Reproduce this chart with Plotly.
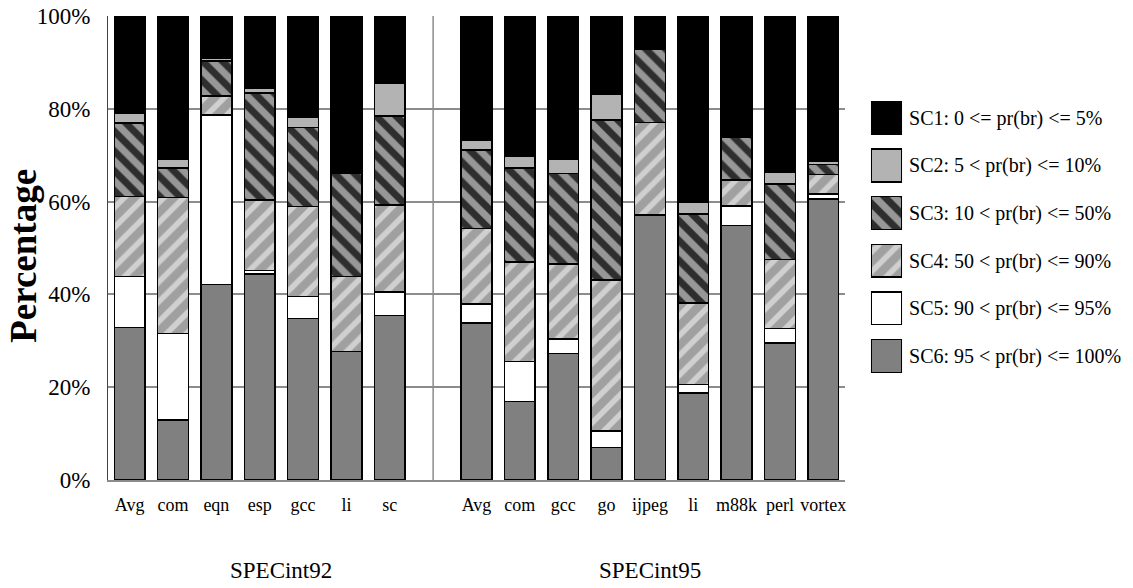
import plotly.graph_objects as go

# ---- data ----
cats92 = ["Avg", "com", "eqn", "esp", "gcc", "li", "sc"]
cats95 = ["Avg", "com", "gcc", "go", "ijpeg", "li", "m88k", "perl", "vortex"]
group_names = ["SPECint92", "SPECint95"]

series_names = [
    "SC1: 0 <= pr(br) <= 5%",
    "SC2: 5 < pr(br) <= 10%",
    "SC3: 10 < pr(br) <= 50%",
    "SC4: 50 < pr(br) <= 90%",
    "SC5: 90 < pr(br) <= 95%",
    "SC6: 95 < pr(br) <= 100%",
]

sc6 = [32.9, 12.9, 42.1, 44.4, 34.8, 27.7, 35.4] + [33.8, 16.9, 27.3, 7.0, 57.0, 18.8, 54.8, 29.5, 60.6]
sc5 = [11.0, 18.7, 36.6, 0.7, 4.7, 0.0, 5.1] + [4.1, 8.6, 3.1, 3.6, 0.2, 1.8, 4.3, 3.2, 1.0]
sc4 = [17.2, 29.3, 4.1, 15.2, 19.4, 16.2, 18.8] + [16.3, 21.5, 16.1, 32.5, 19.8, 17.6, 5.6, 14.8, 4.2]
sc3 = [15.8, 6.3, 7.5, 23.1, 17.1, 22.3, 19.1] + [16.9, 20.2, 19.6, 34.5, 15.8, 19.1, 9.1, 16.3, 2.2]
sc2 = [2.2, 2.0, 0.7, 1.0, 2.1, 0.3, 7.1] + [2.2, 2.6, 3.1, 5.5, 0.0, 2.5, 0.3, 2.5, 0.7]
sc1 = [20.9, 30.8, 9.0, 15.6, 21.9, 33.5, 14.5] + [26.7, 30.2, 30.8, 16.9, 7.2, 40.2, 25.9, 33.7, 31.3]

series_values = [sc1, sc2, sc3, sc4, sc5, sc6]

ytick_vals = [0, 20, 40, 60, 80, 100]
ytick_text = ["0%", "20%", "40%", "60%", "80%", "100%"]

# ---- styles ----
styles = [
    dict(color="#000000"),
    dict(color="#b3b3b3"),
    dict(color="#2e2e2e", pattern=dict(shape="\\", fgcolor="white", bgcolor="#2e2e2e", size=14, solidity=0.5)),
    dict(color="#a0a0a0", pattern=dict(shape="/", fgcolor="white", bgcolor="#a0a0a0", size=14, solidity=0.4)),
    dict(color="#ffffff"),
    dict(color="#808080"),
]

# x positions: group 1, one empty slot, group 2
n1 = len(cats92)
xpos = list(range(n1)) + [n1 + 1 + i for i in range(len(cats95))]
xlabels = cats92 + cats95
n_slots = xpos[-1] + 1

fig = go.Figure()

# stacked bars: SC6 at bottom
for name, vals, st in reversed(list(zip(series_names, series_values, styles))):
    m = dict(st)
    m["line"] = dict(color="black", width=1.5)
    fig.add_trace(go.Bar(x=xpos, y=vals, name=name, marker=m, xaxis="x", yaxis="y",
                         showlegend=False))

# custom legend swatches (large squares)
for name, st in zip(series_names, styles):
    m = dict(st)
    m["line"] = dict(color="black", width=1.5)
    fig.add_trace(go.Bar(x=[1], y=[name], orientation="h", marker=m, width=0.69,
                         xaxis="x2", yaxis="y2", showlegend=False, hoverinfo="skip"))

GRID = "#8c8c8c"
FONT = "Liberation Serif"

fig.update_layout(
    width=1133, height=588,
    margin=dict(l=108, r=10, t=16, b=108, autoexpand=False),
    plot_bgcolor="white", paper_bgcolor="white",
    barmode="stack", bargap=0.29,
    showlegend=False,
    font=dict(family=FONT, color="black"),
    xaxis=dict(domain=[0, 0.7261], range=[-0.5, n_slots - 0.5], tickmode="array",
               tickvals=xpos, ticktext=xlabels, showgrid=False, zeroline=False,
               showline=True, linecolor=GRID, linewidth=1.5, ticks="",
               tickfont=dict(size=18, family=FONT), ticklabelstandoff=8, anchor="y",
               automargin=False),
    yaxis=dict(range=[0, 100], tickmode="array", tickvals=ytick_vals, ticktext=ytick_text,
               showgrid=True, gridcolor=GRID, gridwidth=1.5, zeroline=False,
               showline=True, linecolor="#444444", linewidth=1, ticks="",
               tickfont=dict(size=23, family=FONT), ticklabelstandoff=12, anchor="x",
               automargin=False),
    xaxis2=dict(domain=[0.7517, 0.7823], range=[0, 1], visible=False, anchor="y2",
                automargin=False),
    yaxis2=dict(domain=[0.2162, 0.8317], anchor="x2", side="right", type="category",
                autorange="reversed", showgrid=False, zeroline=False, showline=False,
                ticks="", tickfont=dict(size=20, family=FONT), ticklabelstandoff=6,
                automargin=False),
)

# group separator line at the empty slot
fig.add_shape(type="line", xref="x", yref="y", x0=n1, x1=n1, y0=0, y1=100,
              line=dict(color=GRID, width=1.5), layer="below")

# group labels
fig.add_annotation(text=group_names[0], xref="x", yref="paper", x=n1 / 2, y=-0.196,
                   xanchor="center", yanchor="middle",
                   showarrow=False, font=dict(size=23, family=FONT))
fig.add_annotation(text=group_names[1], xref="x", yref="paper",
                   x=(xpos[n1] + xpos[-1]) / 2, y=-0.196,
                   xanchor="center", yanchor="middle",
                   showarrow=False, font=dict(size=23, family=FONT))

# y axis title
fig.add_annotation(text="<b>Percentage</b>", xref="paper", yref="paper", x=-0.0828, y=0.483,
                   xanchor="center", yanchor="middle",
                   textangle=-90, showarrow=False, font=dict(size=37, family=FONT))

fig.write_html("out.html", config={"displayModeBar": False},
               post_script="document.body.style.margin='0px';")
